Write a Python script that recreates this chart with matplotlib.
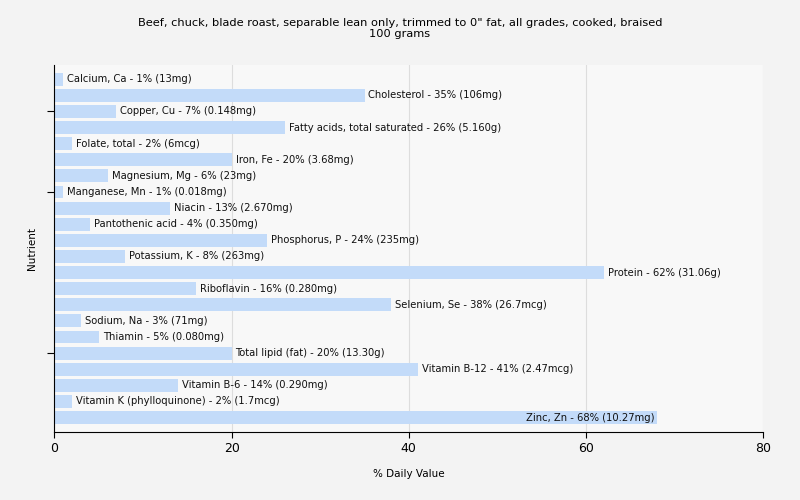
import matplotlib.pyplot as plt
import numpy as np

nutrients = ["Calcium, Ca", "Cholesterol", "Copper, Cu", "Fatty acids, total saturated",
             "Folate, total", "Iron, Fe", "Magnesium, Mg", "Manganese, Mn", "Niacin",
             "Pantothenic acid", "Phosphorus, P", "Potassium, K", "Protein", "Riboflavin",
             "Selenium, Se", "Sodium, Na", "Thiamin", "Total lipid (fat)", "Vitamin B-12",
             "Vitamin B-6", "Vitamin K (phylloquinone)", "Zinc, Zn"]
daily_pct = [1, 35, 7, 26, 2, 20, 6, 1, 13, 4, 24, 8, 62, 16, 38, 3, 5, 20, 41, 14, 2, 68]
amounts = ["13mg", "106mg", "0.148mg", "5.160g", "6mcg", "3.68mg", "23mg", "0.018mg",
           "2.670mg", "0.350mg", "235mg", "263mg", "31.06g", "0.280mg", "26.7mcg", "71mg",
           "0.080mg", "13.30g", "2.47mcg", "0.290mg", "1.7mcg", "10.27mg"]

fig = plt.figure(figsize=(8, 5), dpi=100, facecolor="#f3f3f3")
ax = fig.add_axes([0.068, 0.136, 0.886, 0.734])
ax.set_facecolor("#f8f8f8")

y = np.arange(len(nutrients))
ax.barh(y, daily_pct, height=0.8, color="#c3dbf9", zorder=2)

for i, (n, p, a) in enumerate(zip(nutrients, daily_pct, amounts)):
    label = f"{n} - {p}% ({a})"
    if p > 65:
        ax.text(p - 0.3, i, label, va="center", ha="right", fontsize=7.2, color="#111111", zorder=3)
    else:
        ax.text(p + 0.45, i, label, va="center", ha="left", fontsize=7.2, color="#111111", zorder=3)

ax.set_xlim(0, 80)
ax.set_ylim(len(nutrients) - 0.1, -0.88)
ax.set_xticks([0, 20, 40, 60, 80])
ax.set_yticks([2, 7, 17])
ax.set_yticklabels([])
ax.grid(axis="x", color="#dddddd", linewidth=0.8, zorder=0)
for s in ["top", "right"]:
    ax.spines[s].set_visible(False)
ax.tick_params(axis="x", labelsize=9, length=4)
ax.tick_params(axis="y", length=5)
ax.set_xlabel("% Daily Value", fontsize=7.5, labelpad=10)
ax.set_ylabel("Nutrient", fontsize=7.5)
fig.suptitle("Beef, chuck, blade roast, separable lean only, trimmed to 0\" fat, all grades, cooked, braised\n100 grams",
             fontsize=8.2, y=0.965)

fig.savefig("out.png", dpi=100, facecolor=fig.get_facecolor())
